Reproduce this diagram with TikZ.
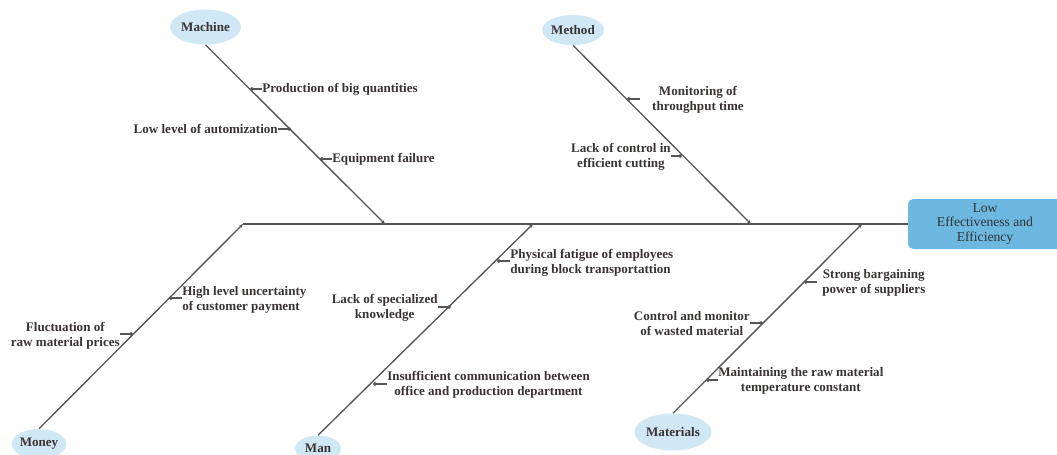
\documentclass[tikz,border=0pt]{standalone}
\usepackage{fontspec}
\setmainfont{Liberation Serif}
\usetikzlibrary{arrows.meta,shapes.geometric}
\definecolor{bonegray}{HTML}{555555}
\definecolor{labelink}{HTML}{3A3333}
\definecolor{catfill}{HTML}{D0E7F5}
\definecolor{effectfill}{HTML}{6CB8E0}

\begin{document}
\begin{tikzpicture}[x=0.75pt,y=-0.75pt,
  every node/.style={font=\fontsize{9.8}{11.25}\selectfont\bfseries, text=labelink},
  category/.style={ellipse, fill=catfill, inner sep=0pt},
  cause/.style={inner sep=0pt, align=center},
  spineline/.style={draw=bonegray, line width=1pt},
  bone/.style={draw=bonegray, line width=1pt, -{Stealth[length=3pt,width=2.5pt]}},
  twig/.style={draw=bonegray, line width=0.8pt, -{To[length=2pt,width=3pt]}},
]
\useasboundingbox (0,0) rectangle (1057,454);
\begin{scope}
\clip (0,0) rectangle (1057,454);

% effect box at the head of the fish
\node[rectangle, rounded corners=4pt, fill=effectfill, minimum width=115.5pt,
      minimum height=37.5pt, inner sep=0pt, align=center,
      font=\fontsize{10.2}{10.9}\selectfont\mdseries, text=black!80]
  (effect) at (985,224) {Low\\Effectiveness and\\Efficiency};

% spine and junctions
\coordinate (jmoney) at (243,224);
\coordinate (jmachine) at (385,224);
\coordinate (jman) at (533,224);
\coordinate (jmethod) at (751,224);
\coordinate (jmaterials) at (862,224);
\draw[spineline] (jmoney) -- (jmoney -| effect.west);

% categories
\node[category, minimum width=53.25pt, minimum height=26.25pt] (machine) at (205.5,27) {Machine};
\node[category, minimum width=46.5pt, minimum height=22.5pt] (method) at (573,30) {Method};
\node[category, minimum width=40.5pt, minimum height=22.5pt] (money) at (39,444) {Money};
\node[category, minimum width=34.5pt, minimum height=19.5pt] (man) at (318,448.5) {Man};
\node[category, minimum width=57.75pt, minimum height=27.75pt] (materials) at (673,432) {Materials};

% main bones
\draw[bone] (machine.south) -- (jmachine);
\draw[bone] (method.south) -- (jmethod);
\draw[bone] (money.north) -- (jmoney);
\draw[bone] (man.north) -- (jman);
\draw[bone] (materials.north) -- (jmaterials);

% Machine causes
\coordinate (bm1) at (250,89);
\coordinate (bm2) at (291,129);
\coordinate (bm3) at (320,159);
\node[cause, anchor=west] (m1) at (262,89) {Production of big quantities};
\node[cause, anchor=east] (m2) at (278,129) {Low level of automization};
\node[cause, anchor=west] (m3) at (332,159) {Equipment failure};
\draw[twig] (m1.west) -- (bm1);
\draw[twig] (m2.east) -- (bm2);
\draw[twig] (m3.west) -- (bm3);

% Method causes
\coordinate (bt1) at (627,99);
\coordinate (bt2) at (682,156);
\node[cause] (t1) at (698,100) {Monitoring of\\throughput time};
\node[cause, anchor=east] (t2) at (671,156.5) {Lack of control in\\efficient cutting};
\draw[twig, shorten <=9pt] (t1.west |- bt1) -- (bt1);
\draw[twig] (t2.east |- bt2) -- (bt2);

% Money causes
\coordinate (bo1) at (169,298);
\coordinate (bo2) at (133,334);
\node[cause, anchor=west, align=left] (o1) at (182,299.5) {High level uncertainty\\of customer payment};
\node[cause, anchor=east] (o2) at (120,335.5) {Fluctuation of\\raw material prices};
\draw[twig] (o1.west |- bo1) -- (bo1);
\draw[twig] (o2.east |- bo2) -- (bo2);

% Man causes
\coordinate (bn1) at (497,261);
\coordinate (bn2) at (451,307);
\coordinate (bn3) at (373,384);
\node[cause, anchor=west, align=left] (n1) at (510,262.5) {Physical fatigue of employees\\during block transportattion};
\node[cause, anchor=east] (n2) at (438,307.5) {Lack of specialized\\knowledge};
\node[cause, anchor=west] (n3) at (387,385) {Insufficient communication between\\office and production department};
\draw[twig] (n1.west |- bn1) -- (bn1);
\draw[twig] (n2.east |- bn2) -- (bn2);
\draw[twig] (n3.west |- bn3) -- (bn3);

% Materials causes
\coordinate (ba1) at (804,282);
\coordinate (ba2) at (763,323);
\coordinate (ba3) at (706,380);
\node[cause, anchor=west] (a1) at (822,282.5) {Strong bargaining\\power of suppliers};
\node[cause, anchor=east] (a2) at (750,323.5) {Control and monitor\\of wasted material};
\node[cause, anchor=west] (a3) at (718,380.5) {Maintaining the raw material\\temperature constant};
\draw[twig, shorten <=4pt] (a1.west |- ba1) -- (ba1);
\draw[twig] (a2.east |- ba2) -- (ba2);
\draw[twig] (a3.west |- ba3) -- (ba3);
\end{scope}
\end{tikzpicture}
\end{document}
